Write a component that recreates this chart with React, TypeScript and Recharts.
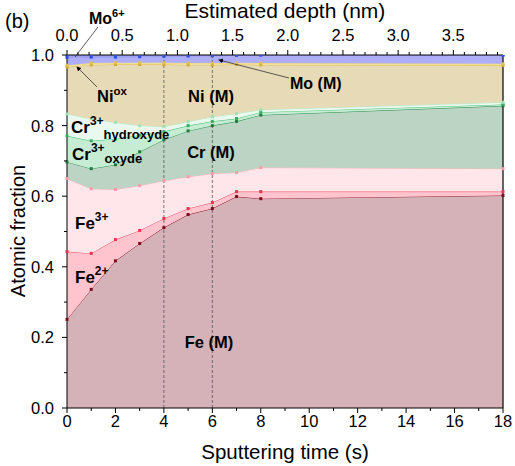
import React from 'react'
import { AreaChart, Area, XAxis, YAxis, ReferenceLine } from 'recharts'

// sputtering time (s)
const time = [0, 1, 2, 3, 4, 5, 6, 7, 8, 18]

// atomic fraction of each species (stacked bottom -> top)
const feM  = [0.251, 0.336, 0.417, 0.466, 0.511, 0.548, 0.565, 0.599, 0.593, 0.602]
const fe2  = [0.192, 0.102, 0.060, 0.037, 0.026, 0.017, 0.017, 0.014, 0.020, 0.011]
const fe3  = [0.207, 0.183, 0.142, 0.127, 0.107, 0.090, 0.082, 0.054, 0.068, 0.065]
const crM  = [0.047, 0.057, 0.070, 0.096, 0.116, 0.130, 0.136, 0.145, 0.149, 0.178]
const crOx = [0.074, 0.079, 0.073, 0.047, 0.023, 0.015, 0.012, 0.008, 0.008, 0.004]
const crOH = [0.062, 0.062, 0.047, 0.027, 0.014, 0.011, 0.013, 0.014, 0.007, 0.006]
const niM  = [0.133, 0.153, 0.164, 0.173, 0.176, 0.161, 0.147, 0.139, 0.127, 0.104]
const niOx = [0.005, 0.005, 0.005, 0.005, 0.005, 0.005, 0.005, 0.005, 0.005, 0.005]
const moM  = [0.022, 0.017, 0.016, 0.017, 0.018, 0.020, 0.021, 0.021, 0.023, 0.025]
const mo6  = [0.007, 0.006, 0.006, 0.005, 0.004, 0.003, 0.002, 0.001, 0.000, 0.000]

const timeTicks = [0, 1, 2, 3, 4, 5, 6, 7, 8, 9, 10, 11, 12, 13, 14, 15, 16, 17, 18]
const fracTicks = [0, 0.1, 0.2, 0.3, 0.4, 0.5, 0.6, 0.7, 0.8, 0.9, 1.0]
const depthTicks = [
  0, 0.1, 0.2, 0.3, 0.4, 0.5, 0.6, 0.7, 0.8, 0.9,
  1.0, 1.1, 1.2, 1.3, 1.4, 1.5, 1.6, 1.7, 1.8, 1.9,
  2.0, 2.1, 2.2, 2.3, 2.4, 2.5, 2.6, 2.7, 2.8, 2.9,
  3.0, 3.1, 3.2, 3.3, 3.4, 3.5, 3.6, 3.7, 3.8, 3.9,
]
const DEPTH_MAX = 3.95 // nm reached at 18 s
const T_MAX = 18

const data = time.map((t, i) => ({
  t,
  feM: feM[i], fe2: fe2[i], fe3: fe3[i],
  crM: crM[i], crOx: crOx[i], crOH: crOH[i],
  niM: niM[i], niOx: niOx[i], moM: moM[i], mo6: mo6[i],
}))

const layers = [
  { key: 'feM',  fill: '#d5b1b8', stroke: '#8b1c2c', dot: '#7a0e1e' },
  { key: 'fe2',  fill: '#ffc4cd', stroke: '#f0506a', dot: '#e8334f' },
  { key: 'fe3',  fill: '#ffe6ea', stroke: '#ffb3bf', dot: '#ff9aaa' },
  { key: 'crM',  fill: '#bbd4c3', stroke: '#2f8f50', dot: '#1f7a3e' },
  { key: 'crOx', fill: '#c6edd4', stroke: '#46c070', dot: '#35b060' },
  { key: 'crOH', fill: '#e9f9ef', stroke: '#b2ebc6', dot: '#9fe3b6' },
  { key: 'niM',  fill: '#e6dab7', stroke: '#e0b84a', dot: '#d8a830' },
  { key: 'niOx', fill: '#f0e2a0', stroke: '#ecd47a', dot: '#e0c050' },
  { key: 'moM',  fill: '#aeaef8', stroke: '#9a9af0', dot: '#3050d8' },
  { key: 'mo6',  fill: '#9d9df2', stroke: '#9d9df2', dot: '#3050d8' },
]

const FONT = 'Arial, "Liberation Sans", sans-serif'

const squareDot = (color: string) => (p: any) => {
  if (p.cx == null || p.cy == null) return <g key={p.key ?? p.index} />
  return <rect key={p.key ?? p.index} x={p.cx - 1.5} y={p.cy - 1.5} width={3} height={3} fill={color} />
}

const BottomTick = (p: any) => {
  const v = p.payload.value
  const major = v % 2 === 0
  return (
    <g>
      <line x1={p.x} y1={p.y} x2={p.x} y2={p.y + (major ? 5 : 3)} stroke="#000" />
      {major && <text x={p.x} y={p.y + 19} textAnchor="middle" fontSize={16.5} fontFamily={FONT} fill="#000">{v}</text>}
    </g>
  )
}

const TopTick = (p: any) => {
  const v = p.payload.value
  const major = Math.abs(v * 2 - Math.round(v * 2)) < 1e-6
  return (
    <g>
      <line x1={p.x} y1={p.y} x2={p.x} y2={p.y - (major ? 5 : 3)} stroke="#000" />
      {major && <text x={p.x} y={p.y - 14} textAnchor="middle" fontSize={16.5} fontFamily={FONT} fill="#000">{v.toFixed(1)}</text>}
    </g>
  )
}

const LeftTick = (p: any) => {
  const v = p.payload.value
  const major = Math.abs(v * 5 - Math.round(v * 5)) < 1e-6
  return (
    <g>
      <line x1={p.x} y1={p.y} x2={p.x - (major ? 5 : 3)} y2={p.y} stroke="#000" />
      {major && <text x={p.x - 13} y={p.y + 6} textAnchor="end" fontSize={16.5} fontFamily={FONT} fill="#000">{v.toFixed(1)}</text>}
    </g>
  )
}

function Annotations() {
  const b = { fontFamily: FONT, fontWeight: 700, fill: '#000' }
  return (
    <svg width={515} height={466} style={{ position: 'absolute', left: 0, top: 0, pointerEvents: 'none' }}>
      <defs>
        <marker id="arr" markerWidth="6" markerHeight="6" refX="5" refY="3" orient="auto">
          <path d="M0,0 L6,3 L0,6 z" fill="#000" />
        </marker>
      </defs>
      <text x={5} y={28} fontSize={20} fontFamily={FONT}>(b)</text>
      <text x={285} y={18} fontSize={21} fontFamily={FONT} textAnchor="middle">Estimated depth (nm)</text>
      <text x={285} y={459} fontSize={20.5} fontFamily={FONT} textAnchor="middle">Sputtering time (s)</text>
      <text x={0} y={0} fontSize={20} fontFamily={FONT} textAnchor="middle" transform="translate(25,231) rotate(-90)">Atomic fraction</text>

      <text x={89} y={24} fontSize={16} {...b}>Mo<tspan fontSize={11} dy={-7}>6+</tspan></text>
      <line x1={98} y1={27} x2={75} y2={57} stroke="#333" strokeWidth={0.8} />

      <text x={97} y={102} fontSize={16.5} {...b}>Ni<tspan fontSize={11.5} dy={-7}>ox</tspan></text>
      <line x1={97} y1={87} x2={77} y2={67} stroke="#333" strokeWidth={0.8} markerEnd="url(#arr)" />

      <text x={211} y={102} fontSize={16.5} textAnchor="middle" {...b}>Ni (M)</text>

      <text x={290} y={89} fontSize={16} {...b}>Mo (M)</text>
      <line x1={289} y1={78} x2={219} y2={60} stroke="#333" strokeWidth={0.8} markerEnd="url(#arr)" />

      <text x={71} y={133} fontSize={17} {...b}>Cr<tspan fontSize={12} dy={-8}>3+</tspan><tspan fontSize={13} dy={14} dx={0}>hydroxyde</tspan></text>
      <text x={72} y={160} fontSize={17} {...b}>Cr<tspan fontSize={12} dy={-8}>3+</tspan><tspan fontSize={13} dy={11}>oxyde</tspan></text>

      <text x={211} y={158} fontSize={16.5} textAnchor="middle" {...b}>Cr (M)</text>
      <text x={75} y={229} fontSize={17} {...b}>Fe<tspan fontSize={12} dy={-8}>3+</tspan></text>
      <text x={75} y={283} fontSize={17} {...b}>Fe<tspan fontSize={12} dy={-8}>2+</tspan></text>
      <text x={209} y={348} fontSize={16.5} textAnchor="middle" {...b}>Fe (M)</text>
    </svg>
  )
}

export default function App() {
  return (
    <div style={{ position: 'absolute', left: 0, top: 0, width: 515, height: 466, background: '#fff' }}>
      <AreaChart width={515} height={466} data={data} margin={{ top: 0, right: 12, bottom: 0, left: 0 }}>
        <XAxis xAxisId="bottom" dataKey="t" type="number" domain={[0, T_MAX]} ticks={timeTicks} interval={0}
          height={58} tickSize={0} tickMargin={0} tickLine={false} axisLine={{ stroke: '#000' }} tick={<BottomTick />} />
        <XAxis xAxisId="top" orientation="top" type="number" dataKey={(d: any) => (d.t * DEPTH_MAX) / T_MAX}
          domain={[0, DEPTH_MAX]} ticks={depthTicks} interval={0}
          allowDataOverflow height={55} tickSize={0} tickMargin={0} tickLine={false} axisLine={{ stroke: '#000' }} tick={<TopTick />} />
        <YAxis type="number" domain={[0, 1]} ticks={fracTicks} interval={0} allowDataOverflow width={67}
          tickSize={0} tickMargin={0} tickLine={false} axisLine={{ stroke: '#000' }} tick={<LeftTick />} />
        {layers.map((l) => (
          <Area key={l.key} xAxisId="bottom" dataKey={l.key} stackId="1" type="linear"
            fill={l.fill} fillOpacity={1} stroke={l.stroke} strokeWidth={1}
            dot={squareDot(l.dot)} activeDot={false} isAnimationActive={false} />
        ))}
        <ReferenceLine xAxisId="bottom" x={4} stroke="#555" strokeDasharray="3 2" strokeWidth={0.8} />
        <ReferenceLine xAxisId="bottom" x={6} stroke="#555" strokeDasharray="3 2" strokeWidth={0.8} />
        <ReferenceLine xAxisId="bottom" x={18} stroke="#000" strokeWidth={1.2} />
      </AreaChart>
      <Annotations />
    </div>
  )
}
